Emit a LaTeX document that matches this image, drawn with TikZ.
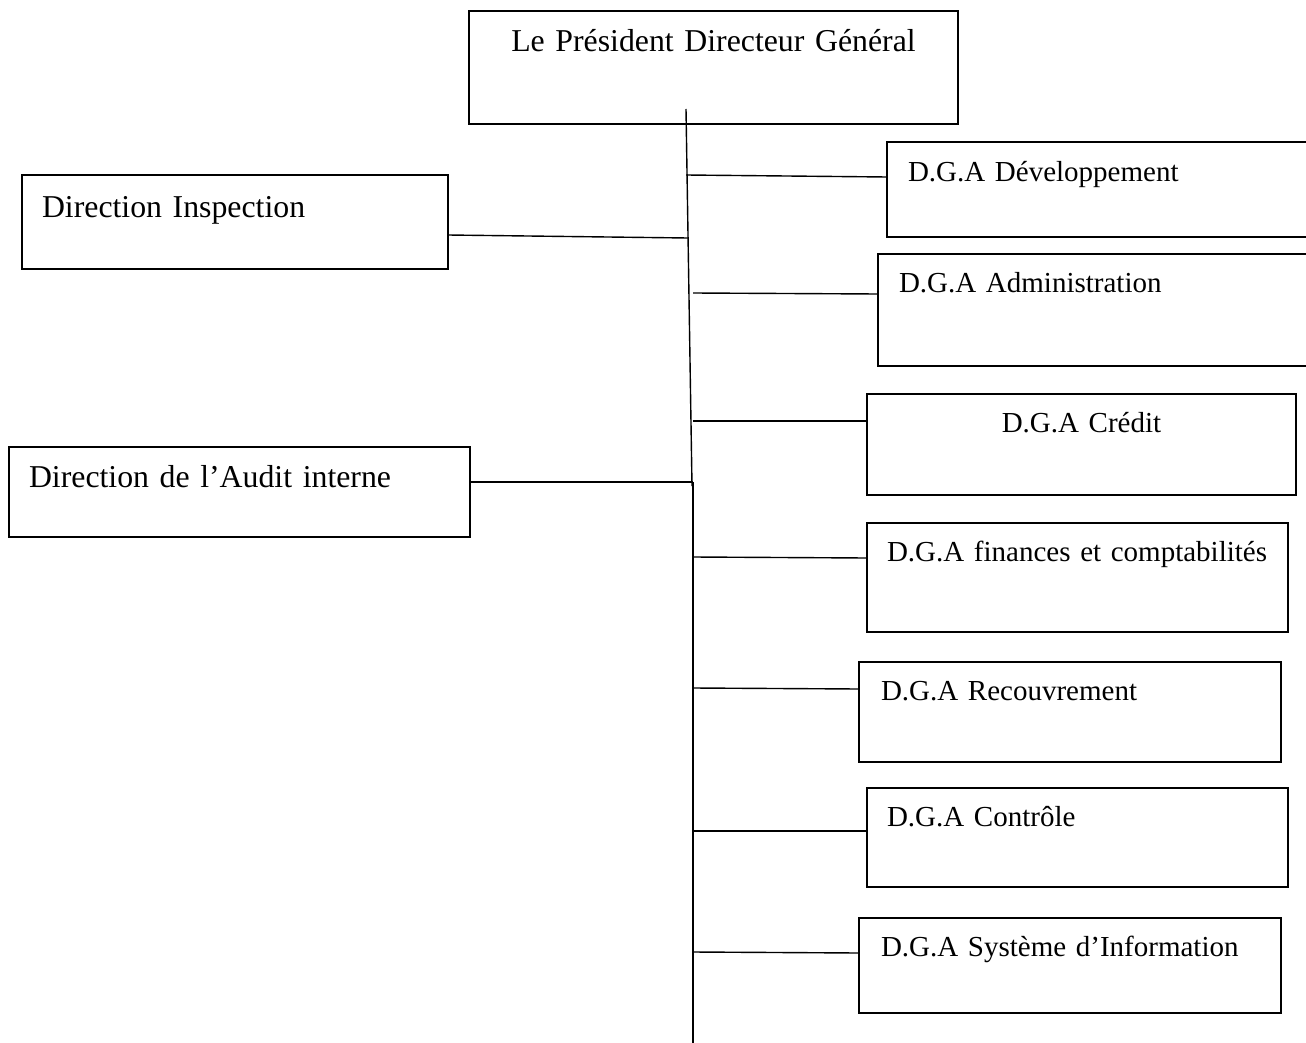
\documentclass[tikz,border=0pt]{standalone}
\usepackage{fontspec}
\setmainfont{Liberation Serif}
\begin{document}
\begin{tikzpicture}[x=1pt,y=-1pt,
  orgbox/.style={draw,line width=1.4pt,rectangle,anchor=north west,inner ysep=0pt,outer sep=0pt},
  big/.style={font=\fontsize{31.8}{38}\selectfont},
  small/.style={font=\fontsize{29}{35}\selectfont},
  conn/.style={line width=1.4pt}]
\useasboundingbox (0,0) rectangle (1306,1043);
\fill[white] (0,0) rectangle (1306,1043);
\clip (0,0) rectangle (1306,1043);

% boxes
\node[orgbox,big,align=center,inner xsep=10pt,text width=469pt,text height=41pt,text depth=72pt] (pdg) at (469,11) {Le Président Directeur Général};
\node[orgbox,big,align=left,inner xsep=20pt,text width=386pt,text height=43pt,text depth=51pt] (insp) at (22,175) {Direction Inspection};
\node[orgbox,big,align=left,inner xsep=20pt,text width=421pt,text height=40pt,text depth=50pt] (audit) at (9,447) {Direction de l’Audit interne};
\node[orgbox,small,align=left,inner xsep=21pt,text width=381pt,text height=40pt,text depth=55pt] (dev) at (887,142) {D.G.A Développement};
\node[orgbox,small,align=left,inner xsep=21pt,text width=390pt,text height=38pt,text depth=74pt] (adm) at (878,254) {D.G.A Administration};
\node[orgbox,small,align=center,inner xsep=20pt,text width=389pt,text height=38pt,text depth=63pt] (cred) at (867,394) {D.G.A Crédit};
\node[orgbox,small,align=left,inner xsep=20pt,text width=381pt,text height=38pt,text depth=71pt] (fin) at (867,523) {\mbox{D.G.A finances et comptabilités}};
\node[orgbox,small,align=left,inner xsep=22pt,text width=378pt,text height=38pt,text depth=62pt] (rec) at (859,662) {D.G.A Recouvrement};
\node[orgbox,small,align=left,inner xsep=20pt,text width=381pt,text height=38pt,text depth=61pt] (ctrl) at (867,788) {D.G.A Contrôle};
\node[orgbox,small,align=left,inner xsep=22pt,text width=378pt,text height=38pt,text depth=57pt] (sys) at (859,918) {\mbox{D.G.A Système d’Information}};

% trunk
\coordinate (t0) at (686,109);
\coordinate (t1) at (692,486);
\coordinate (t2) at (693,482);
\coordinate (t3) at (693,1045);
\draw[conn] (t0) -- (t1);
\draw[conn] (t2) -- (t3);

% connector ends on the trunk
\coordinate (cdev) at (686,175);
\coordinate (cinsp) at (688,238);
\coordinate (cadm) at (693,293);
\coordinate (ccred) at (693,421);
\coordinate (caudit) at (693,482);
\coordinate (cfin) at (693,557);
\coordinate (crec) at (693,688);
\coordinate (cctrl) at (693,831);
\coordinate (csys) at (693,952);

\draw[conn] (cdev) -- ([yshift=-35pt]dev.north west);
\draw[conn] ([yshift=-60pt]insp.north east) -- (cinsp);
\draw[conn] (cadm) -- ([yshift=-40pt]adm.north west);
\draw[conn] (ccred) -- ([yshift=-27pt]cred.north west);
\draw[conn] ([yshift=-35pt]audit.north east) -- (caudit);
\draw[conn] (cfin) -- ([yshift=-35pt]fin.north west);
\draw[conn] (crec) -- ([yshift=-27pt]rec.north west);
\draw[conn] (cctrl) -- ([yshift=-43pt]ctrl.north west);
\draw[conn] (csys) -- ([yshift=-35pt]sys.north west);
\end{tikzpicture}
\end{document}
